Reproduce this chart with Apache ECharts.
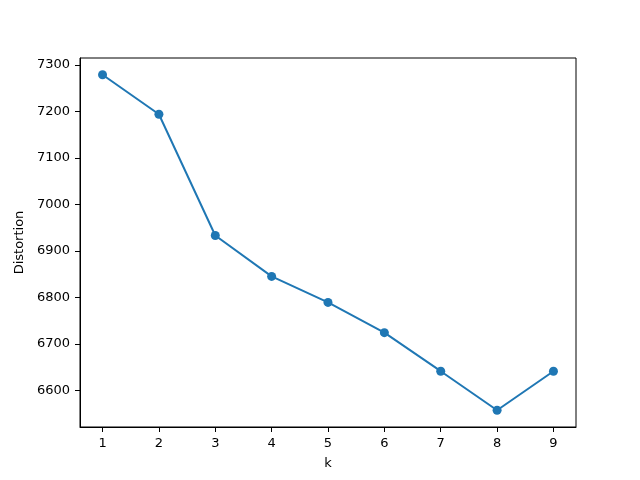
<!DOCTYPE html>
<html>
<head>
<meta charset="utf-8">
<script src="https://cdn.jsdelivr.net/npm/echarts@6/dist/echarts.min.js"></script>
<style>
  html, body { margin: 0; padding: 0; background: #fff; }
  #chart { width: 640px; height: 480px; }
</style>
</head>
<body>
<div id="chart"></div>
<script>
// elbow curve data
const kValues = [1, 2, 3, 4, 5, 6, 7, 8, 9];
const distortion = [7279, 7194, 6933, 6845, 6789, 6724, 6641, 6557, 6641];
const xTicks = [1, 2, 3, 4, 5, 6, 7, 8, 9];
const yTicks = [6600, 6700, 6800, 6900, 7000, 7100, 7200, 7300];

const LINE_COLOR = '#1f77b4';
const FONT = 'DejaVu Sans';

const chart = echarts.init(document.getElementById('chart'));

// axis style shared by both axes, matplotlib-ish
const axisCommon = {
  nameLocation: 'middle',
  nameTextStyle: {color: '#000', fontFamily: FONT, fontSize: 13},
  axisLine: {show: true, onZero: false, lineStyle: {color: '#000', width: 1}},
  axisTick: {show: true, inside: false, length: 5, lineStyle: {color: '#000'}},
  axisLabel: {color: '#000', fontFamily: FONT, fontSize: 13, margin: 10,
    formatter: (v) => String(v)},
  splitLine: {show: false}
};

chart.setOption({
  backgroundColor: '#fff',
  animation: false,
  grid: {
    left: 80,
    right: 64,
    top: 58,
    bottom: 53,
    show: true,
    borderColor: '#000',
    borderWidth: 1,
    backgroundColor: 'transparent'
  },
  xAxis: Object.assign({}, axisCommon, {
    type: 'value',
    name: 'k',
    nameGap: 30,
    min: 0.6,
    max: 9.4,
    axisTick: Object.assign({}, axisCommon.axisTick, {customValues: xTicks}),
    axisLabel: Object.assign({}, axisCommon.axisLabel, {customValues: xTicks})
  }),
  yAxis: Object.assign({}, axisCommon, {
    type: 'value',
    name: 'Distortion',
    nameGap: 46,
    min: 6520.9,
    max: 7315.1,
    axisTick: Object.assign({}, axisCommon.axisTick, {customValues: yTicks}),
    axisLabel: Object.assign({}, axisCommon.axisLabel, {customValues: yTicks})
  }),
  series: [{
    type: 'line',
    data: kValues.map((k, i) => [k, distortion[i]]),
    symbol: 'circle',
    symbolSize: 9,
    showSymbol: true,
    itemStyle: {color: LINE_COLOR},
    lineStyle: {color: LINE_COLOR, width: 2}
  }]
});
</script>
</body>
</html>
